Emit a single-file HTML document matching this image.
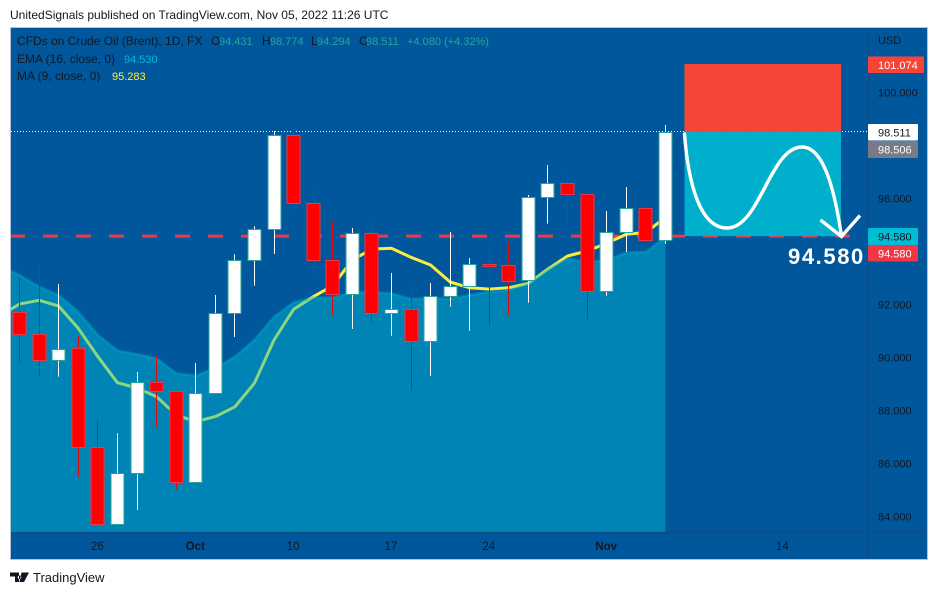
<!DOCTYPE html>
<html lang="en">
<head>
<meta charset="utf-8">
<title>CFDs on Crude Oil (Brent) chart</title>
<style>
html,body{margin:0;padding:0;background:#fff;width:938px;height:595px;overflow:hidden}
svg{display:block}
text{font-family:"Liberation Sans",Arial,sans-serif;font-size:12px;fill:#131722}
</style>
</head>
<body>
<svg id="chart" xmlns="http://www.w3.org/2000/svg" width="938" height="595" viewBox="0 0 938 595">
  <defs>
    <clipPath id="pane-clip"><rect x="11" y="28" width="857" height="504"/></clipPath>
  </defs>
  <text x="10" y="19" style="font-size:12px">UnitedSignals published on TradingView.com, Nov 05, 2022 11:26 UTC</text>
  <rect x="10.5" y="27.5" width="917" height="532" fill="#01579b" stroke="#b2c6da" stroke-width="1"/>
  <line x1="11" x2="927" y1="532.5" y2="532.5" stroke="#0b4c84"/>
  <line x1="868.5" x2="868.5" y1="28" y2="559" stroke="#0b4c84"/>
  <g id="pane" clip-path="url(#pane-clip)"></g>
  <g id="drawings"></g>
  <g id="y-axis"></g>
  <g id="x-axis"></g>

  <g>
    <text x="17" y="45">CFDs on Crude Oil (Brent), 1D, FX</text>
    <text x="211" y="45">O</text>
    <text x="219" y="45" style="fill:#26a69a;font-size:11px">94.431</text>
    <text x="262" y="45">H</text>
    <text x="270" y="45" style="fill:#26a69a;font-size:11px">98.774</text>
    <text x="311" y="45">L</text>
    <text x="317" y="45" style="fill:#26a69a;font-size:11px">94.294</text>
    <text x="359" y="45">C</text>
    <text x="366" y="45" style="fill:#26a69a;font-size:11px">98.511</text>
    <text x="407" y="45" style="fill:#26a69a;font-size:11px">+4.080 (+4.32%)</text>
    <text x="17" y="63">EMA (16, close, 0)</text>
    <text x="124" y="63" style="fill:#00bcd4;font-size:11px">94.530</text>
    <text x="17" y="80">MA (9, close, 0)</text>
    <text x="112" y="80" style="fill:#ffeb3b;font-size:11px">95.283</text>
  </g>

  <g>
    <path d="M10 572.500h9v9.500h-4v-5.500h-5zM21.500 572.500h7.500l-5 9.500h-4.500zM19.500 575.500a1.800 1.800 0 1 0 0.010 0z" fill="#131722"/>
    <text x="33" y="582" style="font-size:13px">TradingView</text>
  </g>
</svg>

<script>
// Candle data: index 0 is the first visible session
var opens  = [91.71,90.88,89.89,90.35,86.61,83.71,85.63,89.06,88.72,85.29,88.65,91.67,93.67,94.84,98.39,95.82,93.67,92.38,94.69,91.67,91.82,90.61,92.31,92.69,93.52,93.48,92.91,96.05,96.57,96.16,92.52,94.72,95.63,94.431];
var highs  = [93.03,93.49,92.77,90.81,87.64,87.14,89.45,90.09,88.75,89.79,92.36,93.89,94.95,98.55,98.61,96.42,95.14,94.89,95.11,93.19,92.63,92.81,94.74,93.75,94.37,94.37,96.13,97.26,96.89,96.17,95.53,96.43,95.94,98.774];
var lows   = [89.80,89.28,89.28,85.50,83.68,83.70,84.25,87.35,85.00,85.29,88.65,90.78,92.71,93.91,95.57,93.09,91.58,91.08,91.29,90.82,88.75,89.30,91.92,91.01,91.20,91.60,92.07,95.05,94.94,91.46,92.33,93.98,94.17,94.294];
var closes = [90.88,89.89,90.33,86.61,83.71,85.63,89.06,88.72,85.29,88.65,91.67,93.67,94.84,98.39,95.82,93.67,92.38,94.69,91.67,91.82,90.61,92.31,92.69,93.52,93.46,92.90,96.05,96.57,96.16,92.52,94.72,95.63,94.42,98.511];
// Indicators: first value belongs to the session just before index 0
var maValues  = [91.58,92.02,92.16,91.94,91.10,90.03,89.05,88.85,88.52,87.83,87.58,87.77,88.14,89.03,90.66,91.82,92.29,92.71,93.68,94.09,94.12,93.78,93.49,92.85,92.63,92.58,92.63,92.80,93.34,93.83,94.02,94.31,94.65,94.72,95.283];
var emaValues = [93.45,93.11,92.67,92.36,91.73,90.85,90.26,90.12,89.97,89.40,89.31,89.60,90.03,90.66,91.54,92.08,92.26,92.26,92.46,92.46,92.42,92.21,92.23,92.21,92.36,92.48,92.55,92.80,93.34,93.74,93.58,93.68,93.95,93.99,94.53];
// Axis labels
var priceTicks = [100,96,92,90,88,86,84];
var timeTickLabels = ["26","Oct","10","17","24","Nov","14"];
var timeTickBars = [4,9,14,19,24,30,39];
var boldTimeTicks = ["Oct","Nov"];
// Trade plan levels
var lastClose = 98.511;
var previousTag = 98.506;
var targetPrice = 94.58;
var stopPrice = 101.074;
var projectionStartBar = 34;
var projectionEndBar = 42;

var NS = "http://www.w3.org/2000/svg";
function xAt(i){ return 19.6 + i * 19.57; }
function yAt(p){ return 92.5 + (100 - p) * 26.5; }
function make(parent, tag, attrs){
  var el = document.createElementNS(NS, tag);
  for (var k in attrs) el.setAttribute(k, attrs[k]);
  parent.appendChild(el);
  return el;
}
function snap(v){ return Math.round(v - 0.5) + 0.5; }
function linePath(values){
  var d = "";
  for (var i = 0; i < values.length; i++){
    d += (i ? "L" : "M") + xAt(i - 1).toFixed(1) + " " + yAt(values[i]).toFixed(1);
  }
  return d;
}

var pane = document.getElementById("pane");
var drawings = document.getElementById("drawings");
var yAxis = document.getElementById("y-axis");
var xAxis = document.getElementById("x-axis");

// Reference lines
var targetLine = make(pane, "line", {x1:10, x2:850, y1:yAt(targetPrice), y2:yAt(targetPrice), stroke:"#f23645", "stroke-width":3, "stroke-dasharray":"15 18"});


var lastLine = make(pane, "line", {x1:11, x2:868, y1:snap(yAt(lastClose)), y2:snap(yAt(lastClose)), stroke:"#ffffff", "stroke-width":1, "stroke-dasharray":"1 2"});



// MA line sits under the translucent EMA area
var maLine = make(pane, "path", {d:linePath(maValues), fill:"none", stroke:"#ffeb3b", "stroke-width":3, "stroke-linejoin":"round"});



var emaEndX = xAt(emaValues.length - 2).toFixed(1);
var emaArea = make(pane, "path", {d:linePath(emaValues) + "L" + emaEndX + " 532L" + xAt(-1).toFixed(1) + " 532Z", fill:"#00bcd4", "fill-opacity":0.45});


var emaLine = make(pane, "path", {d:linePath(emaValues), fill:"none", stroke:"#00bcd4", "stroke-opacity":0.3, "stroke-width":3, "stroke-linejoin":"round"});



// Candles
for (var c = 0; c < opens.length; c++){
  var isUp = closes[c] >= opens[c];
  var barX = snap(xAt(c));
  var bodyTop = Math.round(yAt(Math.max(opens[c], closes[c])));
  var bodyBottom = Math.round(yAt(Math.min(opens[c], closes[c])));
  var wick = make(pane, "line", {x1:barX, x2:barX, y1:yAt(highs[c]), y2:yAt(lows[c]), stroke: isUp ? "#ffffff" : "#e00a0a", "stroke-width":1});
  
  
  var body = make(pane, "rect", {x:barX - 6.5, y:bodyTop + 0.5, width:13, height:Math.max(bodyBottom - bodyTop, 1), fill: isUp ? "#ffffff" : "#ff0000", stroke: isUp ? "#26a69a" : "#f23645", "stroke-width":1});
  
  
}

// Trade plan drawings
var boxX = xAt(projectionStartBar) - 0.5;
var boxW = xAt(projectionEndBar) - xAt(projectionStartBar);
var stopBox = make(drawings, "rect", {x:boxX, y:yAt(stopPrice), width:boxW, height:yAt(lastClose) - yAt(stopPrice), fill:"#f64537"});


var targetBox = make(drawings, "rect", {x:boxX, y:yAt(lastClose), width:boxW, height:yAt(targetPrice) - yAt(lastClose), fill:"#00afcc"});



var curve = make(drawings, "path", {d:"M684.500 134C688 180 699 228 727 228C760 228 770 147 802 147C826 147 836 200 841.500 236", fill:"none", stroke:"#ffffff", "stroke-width":3.4, "stroke-linecap":"round"});


var arrow = make(drawings, "path", {d:"M820.500 220L841.500 236.500L860 215.500", fill:"none", stroke:"#ffffff", "stroke-width":3.4});


var bigLabel = make(drawings, "text", {x:788, y:264, "letter-spacing":"1.6"});


bigLabel.setAttribute('style', 'font-size:22px;font-weight:bold;fill:#ffffff');
bigLabel.textContent = targetPrice.toFixed(3);

// Price axis
var usd = make(yAxis, "text", {x:878, y:44});


usd.textContent = "USD";
usd.setAttribute('style', 'font-size:11px');
for (var t = 0; t < priceTicks.length; t++){
  var tick = make(yAxis, "text", {x:878, y:yAt(priceTicks[t]) + 4});
  
  
  tick.setAttribute('style', 'font-size:11px');
  tick.textContent = priceTicks[t].toFixed(3);
}

// Price tags
function priceTag(parent, price, w, y, h, bg, fg){
  var g = make(parent, "g", {});
  make(g, "rect", {x:868, y:y, width:w, height:h, fill:bg, rx:1});
  var txt = make(g, "text", {x:878, y:y + h / 2 + 4});
  txt.setAttribute('style', 'font-size:11px;fill:' + fg);
  txt.textContent = price;
  return g;
}
var tagStop = priceTag(yAxis, stopPrice.toFixed(3), 56, 56.5, 16.5, "#f64537", "#ffffff");


var tagLast = priceTag(yAxis, lastClose.toFixed(3), 50, 124, 16.5, "#ffffff", "#131722");


var tagPrev = priceTag(yAxis, previousTag.toFixed(3), 50, 141, 17, "#787b86", "#ffffff");


var tagCyan = priceTag(yAxis, targetPrice.toFixed(3), 50, 228, 17, "#00bcd4", "#131722");


var tagRed = priceTag(yAxis, targetPrice.toFixed(3), 50, 245, 16.5, "#f23645", "#ffffff");



// Time axis
for (var m = 0; m < timeTickLabels.length; m++){
  var isBold = boldTimeTicks.indexOf(timeTickLabels[m]) >= 0;
  var label = make(xAxis, "text", {x:xAt(timeTickBars[m]) - 0.5, y:550, "text-anchor":"middle"});
  
  
  label.setAttribute('style', 'font-size:11.5px' + (isBold ? ';font-weight:bold' : ''));
  label.textContent = timeTickLabels[m];
}
</script>
</body>
</html>
